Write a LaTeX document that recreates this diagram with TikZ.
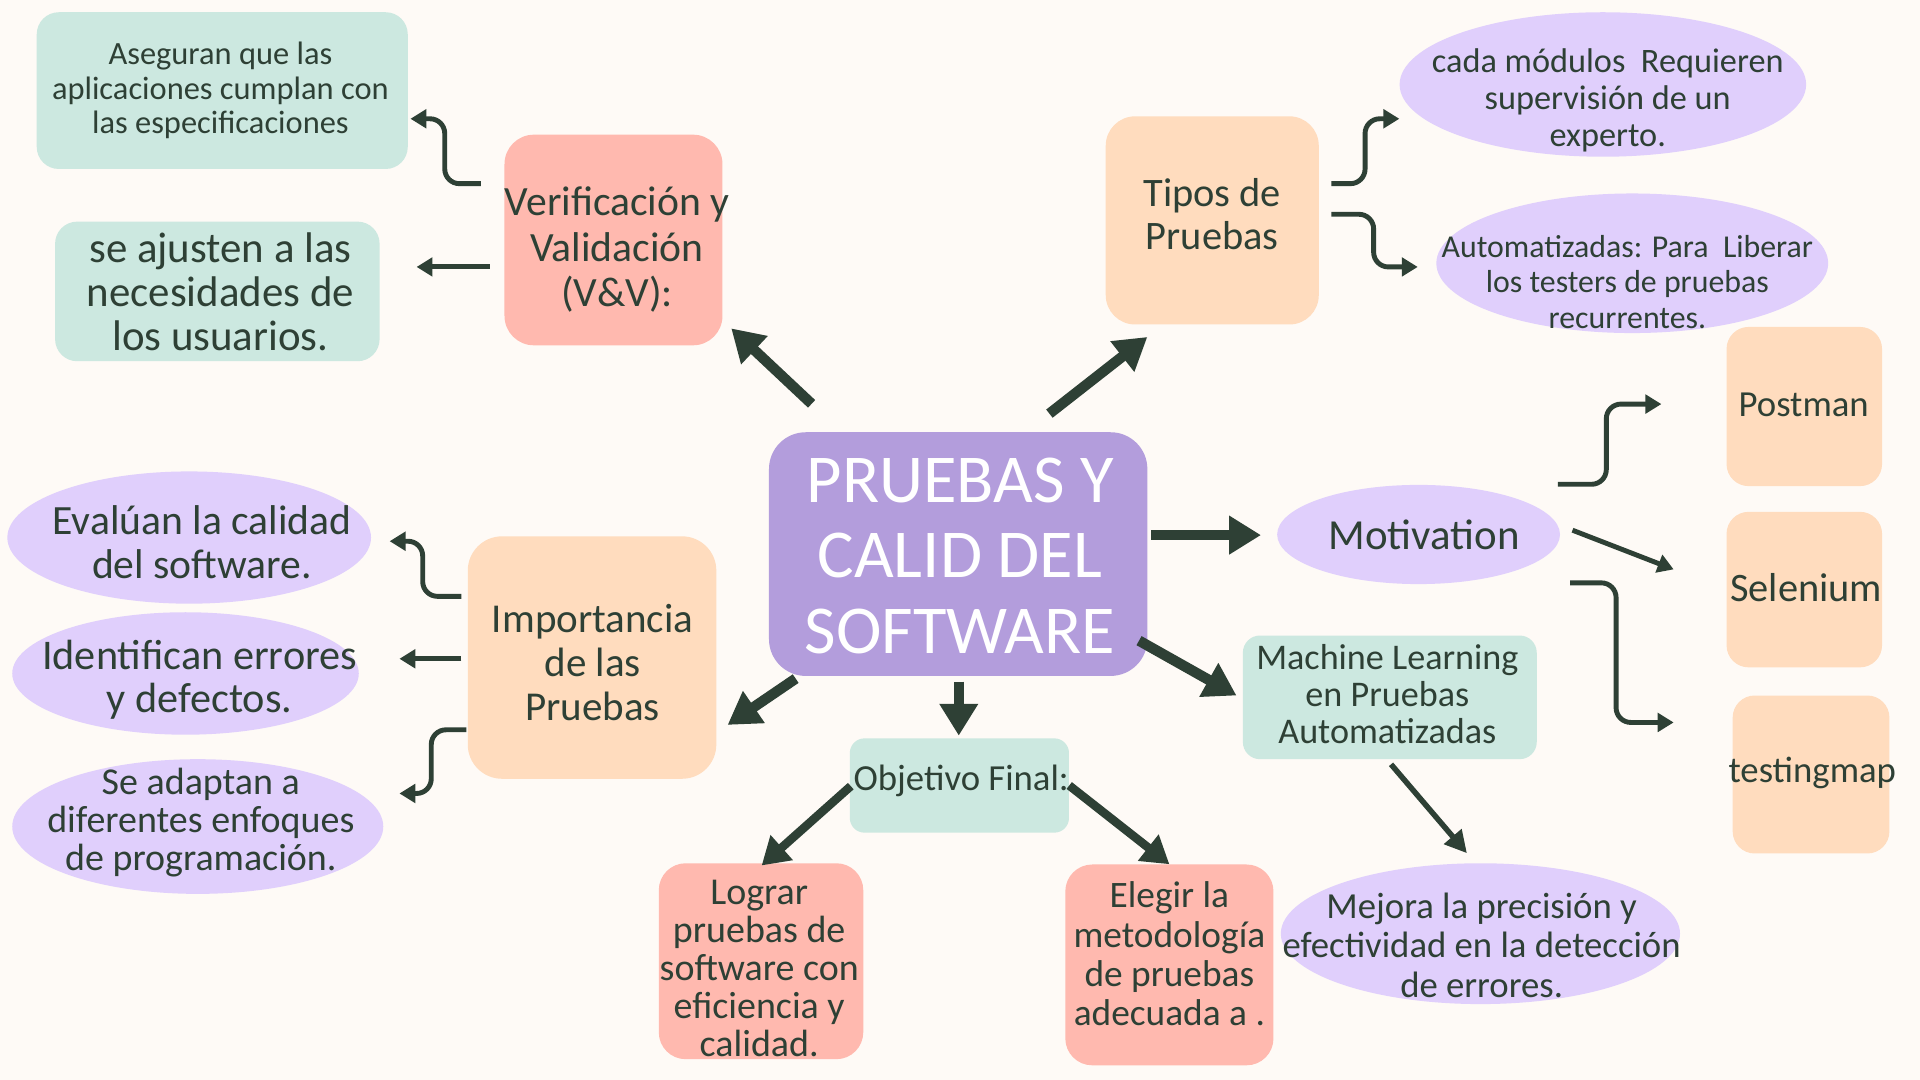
\documentclass[tikz,border=0pt]{standalone}
\usepackage{fontspec}
\setmainfont{Carlito}
\usetikzlibrary{arrows.meta,shapes.geometric}
\definecolor{bg}{HTML}{FEFAF6}
\definecolor{mint}{HTML}{CCE8E0}
\definecolor{salmon}{HTML}{FFB9AF}
\definecolor{peach}{HTML}{FFDCBE}
\definecolor{lav}{HTML}{E0CFFC}
\definecolor{purp}{HTML}{B39DDC}
\definecolor{ink}{HTML}{2E4035}
\newcommand{\fsz}[2]{\fontsize{#1}{#2}\selectfont}
\tikzset{
  box/.style={draw=none, rectangle, rounded corners=18pt, inner sep=0pt},
  bubble/.style={draw=none, ellipse, inner sep=0pt, fill=lav},
  txt/.style={text=ink, align=center, inner sep=0pt},
  thinarrow/.style={draw=ink, line width=4pt, rounded corners=12pt, -{Triangle[length=13pt,width=15pt]}},
  bigarrow/.style={draw=ink, line width=8.5pt, -{Triangle[length=26pt,width=30pt]}},
  midarrow/.style={draw=ink, line width=7pt, -{Triangle[length=22pt,width=26pt]}},
  smallarrow/.style={draw=ink, line width=4.5pt, -{Triangle[length=18pt,width=18pt]}}
}
\begin{document}
\begin{tikzpicture}[x=1pt,y=-1pt]
\useasboundingbox (0,0) rectangle (1568,882);
\fill[bg] (0,0) rectangle (1568,882);

% shapes
\node[box, fill=mint, minimum width=303pt, minimum height=128pt] (ase) at (181.5,74) {};
\node[box, fill=mint, minimum width=265pt, minimum height=114pt] (aju) at (177.5,238) {};
\node[box, fill=salmon, minimum width=178pt, minimum height=172pt, rounded corners=24pt] (vv) at (501,196) {};
\node[box, fill=peach, minimum width=174pt, minimum height=170pt, rounded corners=24pt] (typ) at (990,180) {};
\node[bubble, minimum width=332pt, minimum height=118pt] (cada) at (1309,69) {};
\node[bubble, minimum width=320pt, minimum height=114pt] (auto) at (1333,215) {};
\node[box, fill=purp, minimum width=309pt, minimum height=199pt, rounded corners=30pt] (ctr) at (782.5,452.5) {};
\node[bubble, minimum width=231pt, minimum height=81pt] (mot) at (1158.5,436.5) {};
\node[box, fill=peach, minimum width=127pt, minimum height=130pt] (post) at (1473.5,332) {};
\node[box, fill=peach, minimum width=127pt, minimum height=127pt] (sel) at (1473.5,481.5) {};
\node[box, fill=peach, minimum width=128pt, minimum height=129pt] (test) at (1479,632.5) {};
\node[box, fill=mint, minimum width=240pt, minimum height=101pt, rounded corners=14pt] (ml) at (1135,569.5) {};
\node[bubble, minimum width=326pt, minimum height=115pt] (mej) at (1209,762.5) {};
\node[box, fill=mint, minimum width=179pt, minimum height=77pt, rounded corners=12pt] (obj) at (783.5,641.5) {};
\node[box, fill=salmon, minimum width=167pt, minimum height=160pt, rounded corners=22pt] (log) at (621.5,785) {};
\node[box, fill=salmon, minimum width=170pt, minimum height=164pt, rounded corners=22pt] (ele) at (955,788) {};
\node[box, fill=peach, minimum width=203pt, minimum height=198pt, rounded corners=28pt] (imp) at (483.5,537) {};
\node[bubble, minimum width=297pt, minimum height=108pt] (eva) at (154.5,439) {};
\node[bubble, minimum width=283pt, minimum height=100pt] (ide) at (151.5,550) {};
\node[bubble, minimum width=303pt, minimum height=110pt] (ada) at (161.5,675) {};

% texts
\node[txt, font=\fsz{26.5}{28}] (aset) at (180,74) {Aseguran que las\\aplicaciones cumplan con\\las especificaciones};
\node[txt, font=\fsz{35}{36}] (ajut) at (180,238) {se ajusten a las\\necesidades de\\los usuarios.};
\node[txt, font=\fsz{34}{37}] (vvt) at (504,204) {Verificación y\\Validación\\(V\&V):};
\node[txt, font=\fsz{33}{35}] (typt) at (990,175) {Tipos de\\Pruebas};
\node[txt, font=\fsz{28}{30}] (cadat) at (1313,82) {cada módulos\ \ Requieren\\supervisión de un\\experto.};
\node[txt, font=\fsz{26}{29}] (autot) at (1329,230) {Automatizadas: Para\ \ Liberar\\los testers de pruebas\\recurrentes.};
\node[txt, text=white, font=\fsz{56}{62}] (ctrt) at (784,454) {PRUEBAS Y\\CALID DEL\\SOFTWARE};
\node[txt, font=\fsz{35}{36}] (mott) at (1163,437) {Motivation};
\node[txt, font=\fsz{30}{32}] (postt) at (1473,331) {Postman};
\node[txt, font=\fsz{33}{34}] (selt) at (1475,480) {Selenium};
\node[txt, font=\fsz{30}{32}] (testt) at (1480,631) {testingmap};
\node[txt, font=\fsz{29.5}{30}] (mlt) at (1133,567) {Machine Learning\\en Pruebas\\Automatizadas};
\node[txt, font=\fsz{30}{32}] (mejt) at (1210,772) {Mejora la precisión y\\efectividad en la detección\\de errores.};
\node[txt, font=\fsz{30}{30}] (objt) at (785,638) {Objetivo Final:};
\node[txt, font=\fsz{31}{31}] (logt) at (620,791) {Lograr\\pruebas de\\software con\\eficiencia y\\calidad.};
\node[txt, font=\fsz{30.5}{32}] (elet) at (955,779) {Elegir la\\metodología\\de pruebas\\adecuada a .};
\node[txt, font=\fsz{33.5}{36}] (impt) at (484,541) {Importancia\\de las\\Pruebas};
\node[txt, font=\fsz{34}{36}] (evat) at (165,443) {Evalúan la calidad\\del software.};
\node[txt, font=\fsz{34.5}{35}] (idet) at (163,555) {Identifican errores\\y defectos.};
\node[txt, font=\fsz{31}{31}] (adat) at (164,672) {Se adaptan a\\diferentes enfoques\\de programación.};

% main arrows
\draw[bigarrow] ([shift={(35,-23)}]ctr.north west) -- ([shift={(7,-14)}]vv.south east);
\draw[bigarrow] ([shift={(74.5,-15)}]ctr.north) -- ([shift={(-53,10)}]typ.south);
\draw[bigarrow] ([shift={(3,-15.5)}]ctr.east) -- ([shift={(-13,0.5)}]mot.west);
\draw[bigarrow] ([shift={(-7,-29)}]ctr.south east) -- ([shift={(-5,-1.5)}]ml.west);
\draw[bigarrow] ([shift={(0.5,4.5)}]ctr.south) -- ([shift={(-0.5,-2)}]obj.north);
\draw[bigarrow] ([shift={(22,2)}]ctr.south west) -- ([shift={(9,55)}]imp.east);
\draw[midarrow] ([shift={(1,0.5)}]obj.west) -- ([shift={(0.5,2)}]log.north);
\draw[midarrow] (obj.east) -- (ele.north);
\draw[smallarrow] ([shift={(1,4)}]ml.south) -- ([shift={(-11,-8)}]mej.north);

% thin connectors
\draw[thinarrow] ([shift={(-19,-46)}]vv.west) -| ([shift={(30,23)}]ase.east) -- ([shift={(2,23)}]ase.east);
\draw[thinarrow] ([shift={(-12,22)}]vv.west) -- ([shift={(30,-20)}]aju.east);
\draw[thinarrow] ([shift={(10,-30)}]typ.east) -| ([shift={(-28,28)}]cada.west) -- ([shift={(0,28)}]cada.west);
\draw[thinarrow] ([shift={(10,-5)}]typ.east) -| ([shift={(-51,3)}]auto.west) -- ([shift={(-15,3)}]auto.west);
\draw[thinarrow] ([shift={(-2,-41)}]mot.east) -| ([shift={(-98,-2)}]post.west) -- ([shift={(-53,-2)}]post.west);
\draw[thinarrow] ([shift={(10,-3.5)}]mot.east) -- ([shift={(-43,-16.5)}]sel.west);
\draw[thinarrow] ([shift={(8,39.5)}]mot.east) -| ([shift={(-95,-42.5)}]test.west) -- ([shift={(-48,-42.5)}]test.west);
\draw[thinarrow] ([shift={(-5,-50)}]imp.west) -| ([shift={(42,3)}]eva.east) -- ([shift={(15,3)}]eva.east);
\draw[thinarrow] ([shift={(-5,1)}]imp.west) -- ([shift={(33,-12)}]ide.east);
\draw[thinarrow] ([shift={(-1,59)}]imp.west) -| ([shift={(39,-27)}]ada.east) -- ([shift={(13,-27)}]ada.east);
\end{tikzpicture}
\end{document}
